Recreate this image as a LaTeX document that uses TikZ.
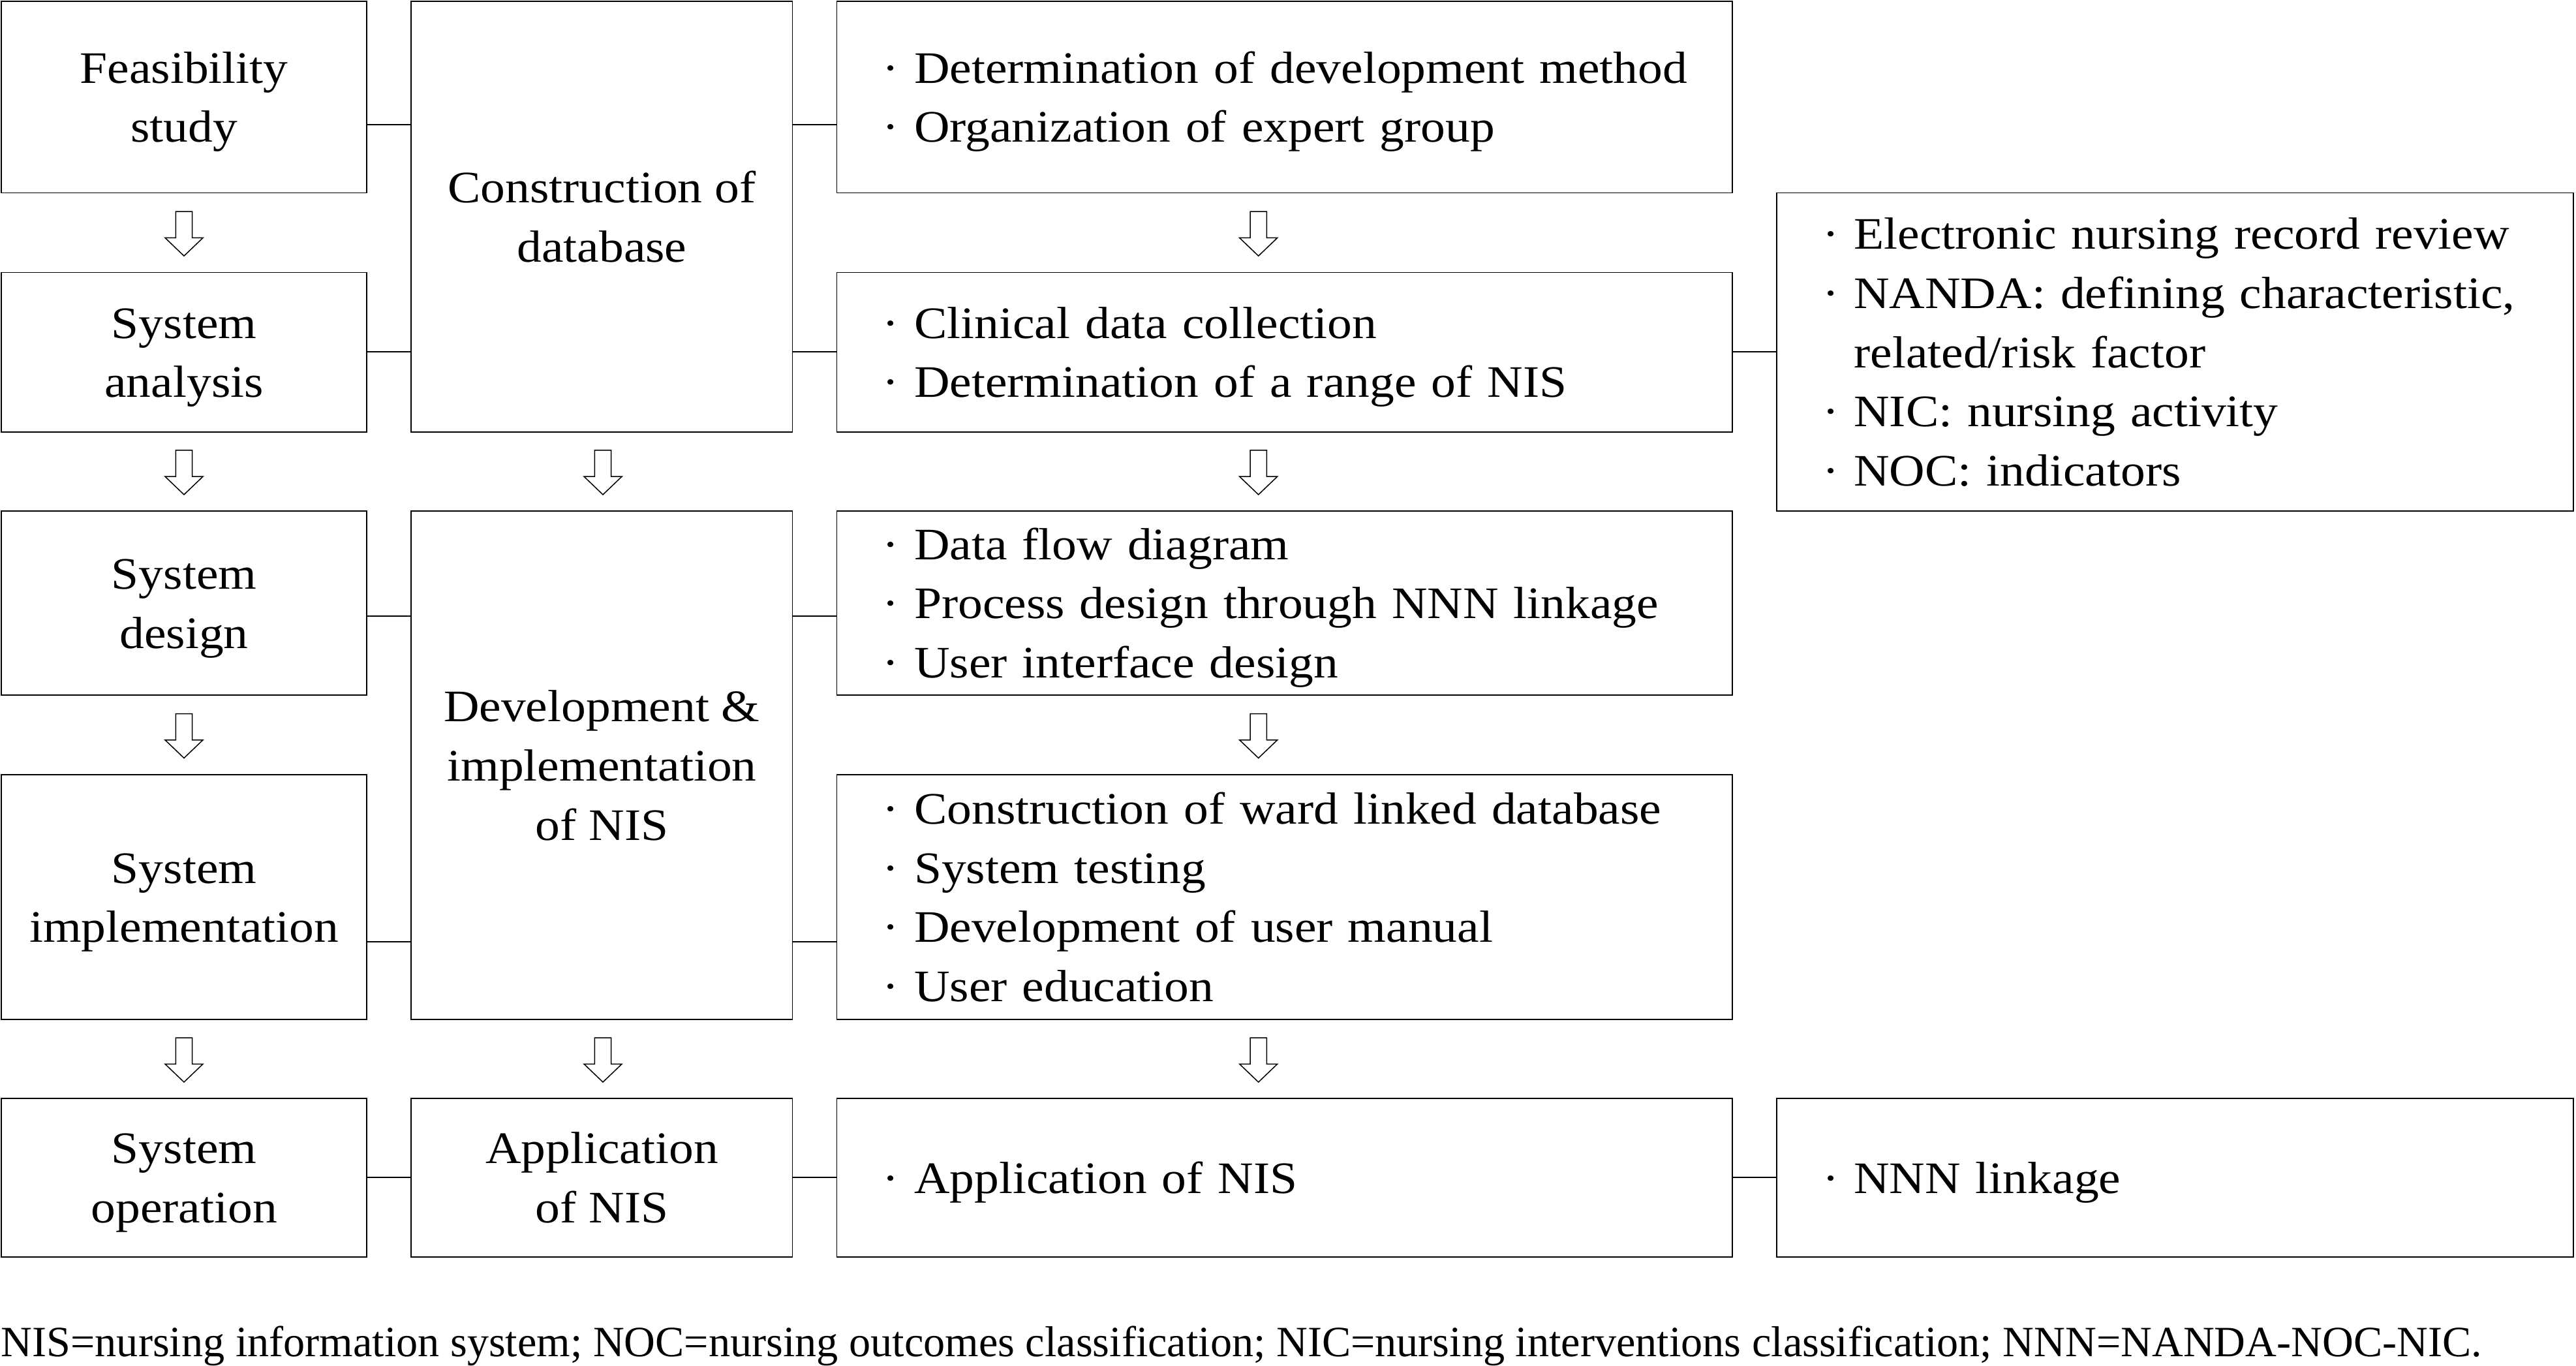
\documentclass[tikz,border=0pt]{standalone}
\usepackage{fontspec}
\setmainfont{Liberation Serif}
\newfontfamily\mainfnt{Liberation Serif}[FakeStretch=1.095]
\usetikzlibrary{calc}
\newcommand\lnstrut{\rule[-8.5pt]{0pt}{36pt}}
\newcommand\blockdown[2]{%
  \draw[blk] (#1,#2) ++(-5,0) -- ++(10,0) -- ++(0,16) -- ++(6.5,0) -- ++(-11.5,11) -- ++(-11.5,-11) -- ++(6.5,0) -- cycle;}
\begin{document}
\begin{tikzpicture}[x=1pt,y=-1pt,
  box/.style={draw, line width=0.7pt, inner sep=0pt, anchor=north west,
    font=\mainfnt\fontsize{27.4}{36}\selectfont, align=center},
  lbox/.style={box, align=left, inner xsep=28pt},
  conn/.style={line width=0.7pt},
  blk/.style={draw, line width=0.6pt, fill=white}]
\useasboundingbox (0,0) rectangle (1568,831);
% column 1
\node[box, minimum width=222.6pt, minimum height=116.6pt] (f1) at (0.4,0.4) {\lnstrut Feasibility\\study\lnstrut};
\node[box, minimum width=222.6pt, minimum height=97pt] (f2) at (0.4,165.5) {\lnstrut System\\analysis\lnstrut};
\node[box, minimum width=222.6pt, minimum height=112pt] (f3) at (0.4,310.6) {\lnstrut System\\design\lnstrut};
\node[box, minimum width=222.6pt, minimum height=149pt] (f4) at (0.4,471) {\lnstrut System\\implementation\lnstrut};
\node[box, minimum width=222.6pt, minimum height=96.5pt] (f5) at (0.4,668) {\lnstrut System\\operation\lnstrut};
% column 2
\node[box, minimum width=232pt, minimum height=262.1pt] (c1) at (250,0.4) {\lnstrut Construction of\\database\lnstrut};
\node[box, minimum width=232pt, minimum height=309.4pt] (c2) at (250,310.6) {\lnstrut Development \&\\implementation\\of NIS\lnstrut};
\node[box, minimum width=232pt, minimum height=96.5pt] (c3) at (250,668) {\lnstrut Application\\of NIS\lnstrut};
% column 3
\node[lbox, minimum width=545pt, text width=489pt, minimum height=116.6pt] (d1) at (509,0.4)
  {\lnstrut\mbox{· Determination of development method}\\· Organization of expert group\lnstrut};
\node[lbox, minimum width=545pt, text width=489pt, minimum height=97pt] (d2) at (509,165.5)
  {\lnstrut· Clinical data collection\\· Determination of a range of NIS\lnstrut};
\node[lbox, minimum width=545pt, text width=489pt, minimum height=112pt] (d3) at (509,310.6)
  {\lnstrut· Data flow diagram\\· Process design through NNN linkage\\· User interface design\lnstrut};
\node[lbox, minimum width=545pt, text width=489pt, minimum height=149pt] (d4) at (509,471)
  {\lnstrut· Construction of ward linked database\\· System testing\\· Development of user manual\\· User education\lnstrut};
\node[lbox, minimum width=545pt, text width=489pt, minimum height=96.5pt] (d5) at (509,668)
  {\lnstrut· Application of NIS};
% column 4
\node[lbox, minimum width=485pt, text width=429pt, minimum height=193.5pt] (e1) at (1081,117)
  {\lnstrut· Electronic nursing record review\\\mbox{· NANDA: defining characteristic,}\\\hphantom{·~}related/risk factor\\· NIC: nursing activity\\· NOC: indicators\lnstrut};
\node[lbox, minimum width=485pt, text width=429pt, minimum height=96.5pt] (e2) at (1081,668)
  {\lnstrut· NNN linkage};
% connector levels
\coordinate (ya) at (0,76);
\coordinate (yb) at (0,214);
\coordinate (yc) at (0,375);
\coordinate (yd) at (0,573);
\coordinate (ye) at (0,716.5);
\draw[conn] (f1.east |- ya) -- (c1.west |- ya);
\draw[conn] (f2.east |- yb) -- (c1.west |- yb);
\draw[conn] (f3.east |- yc) -- (c2.west |- yc);
\draw[conn] (f4.east |- yd) -- (c2.west |- yd);
\draw[conn] (f5.east |- ye) -- (c3.west |- ye);
\draw[conn] (c1.east |- ya) -- (d1.west |- ya);
\draw[conn] (c1.east |- yb) -- (d2.west |- yb);
\draw[conn] (c2.east |- yc) -- (d3.west |- yc);
\draw[conn] (c2.east |- yd) -- (d4.west |- yd);
\draw[conn] (c3.east |- ye) -- (d5.west |- ye);
\draw[conn] (d2.east |- yb) -- (e1.west |- yb);
\draw[conn] (d5.east |- ye) -- (e2.west |- ye);
% block arrows
\blockdown{112}{128.75}
\blockdown{112}{274}
\blockdown{112}{434.3}
\blockdown{112}{631.5}
\blockdown{367}{274}
\blockdown{367}{631.5}
\blockdown{766}{128.75}
\blockdown{766}{274}
\blockdown{766}{434.3}
\blockdown{766}{631.5}
% footnote
\node[anchor=base west, inner sep=0pt, font=\fontsize{26.3}{30}\selectfont] (note) at (0.5,825.5)
  {NIS=nursing information system; NOC=nursing outcomes classification; NIC=nursing interventions classification; NNN=NANDA-NOC-NIC.};
\end{tikzpicture}
\end{document}
